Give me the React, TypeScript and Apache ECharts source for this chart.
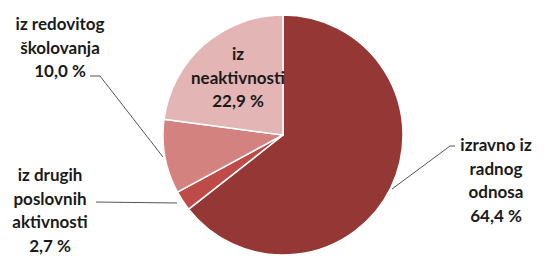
import React, { useEffect, useRef } from "react";
import * as echarts from "echarts";

const categories = [
  "izravno iz\nradnog\nodnosa",
  "iz drugih\nposlovnih\naktivnosti",
  "iz redovitog\nškolovanja",
  "iz\nneaktivnosti",
];
const values = [64.4, 2.7, 10.0, 22.9];
const colors = ["#953735", "#BF4B48", "#D4827F", "#E3B5B5"];

// label anchor (center) positions and leader lines, per slice
const labelPos: [number, number][] = [
  [496, 180],
  [50, 210],
  [60, 47],
  [238, 77],
];
const leaderLines: ([number, number][] | null)[] = [
  [[455, 146], [450, 146], [392, 189]],
  [[96, 202], [177, 203]],
  [[90, 76], [100, 76], [163, 157]],
  null,
];

export default function App() {
  const ref = useRef<HTMLDivElement>(null);
  useEffect(() => {
    if (!ref.current) return;
    const chart = echarts.init(ref.current, undefined, { renderer: "svg" });
    chart.setOption({
      animation: false,
      backgroundColor: "#ffffff",
      series: [
        {
          type: "pie",
          center: [283, 135],
          radius: 120,
          startAngle: 90,
          clockwise: true,
          data: categories.map((name, i) => ({
            name,
            value: values[i],
            itemStyle: { color: colors[i] },
            labelLine: { show: leaderLines[i] !== null },
          })),
          itemStyle: { borderColor: "#ffffff", borderWidth: 1.5 },
          label: {
            show: true,
            position: "outside",
            formatter: (p: any) =>
              p.name + "\n" + p.value.toFixed(1).replace(".", ",") + " %",
            fontFamily: "Lato",
            fontWeight: "bold",
            fontSize: 17,
            lineHeight: 23.5,
            color: "#1a1a1a",
            align: "center",
          },
          labelLine: {
            show: true,
            lineStyle: { color: "#555555", width: 1 },
          },
          labelLayout: (params: any) => {
            const i = params.dataIndex;
            const [x, y] = labelPos[i];
            const o: any = { x, y, align: "center", verticalAlign: "middle" };
            if (leaderLines[i]) o.labelLinePoints = leaderLines[i];
            return o;
          },
        },
      ],
    });
    return () => chart.dispose();
  }, []);
  return (
    <div
      ref={ref}
      style={{ position: "fixed", left: 0, top: 0, width: 546, height: 258 }}
    />
  );
}
